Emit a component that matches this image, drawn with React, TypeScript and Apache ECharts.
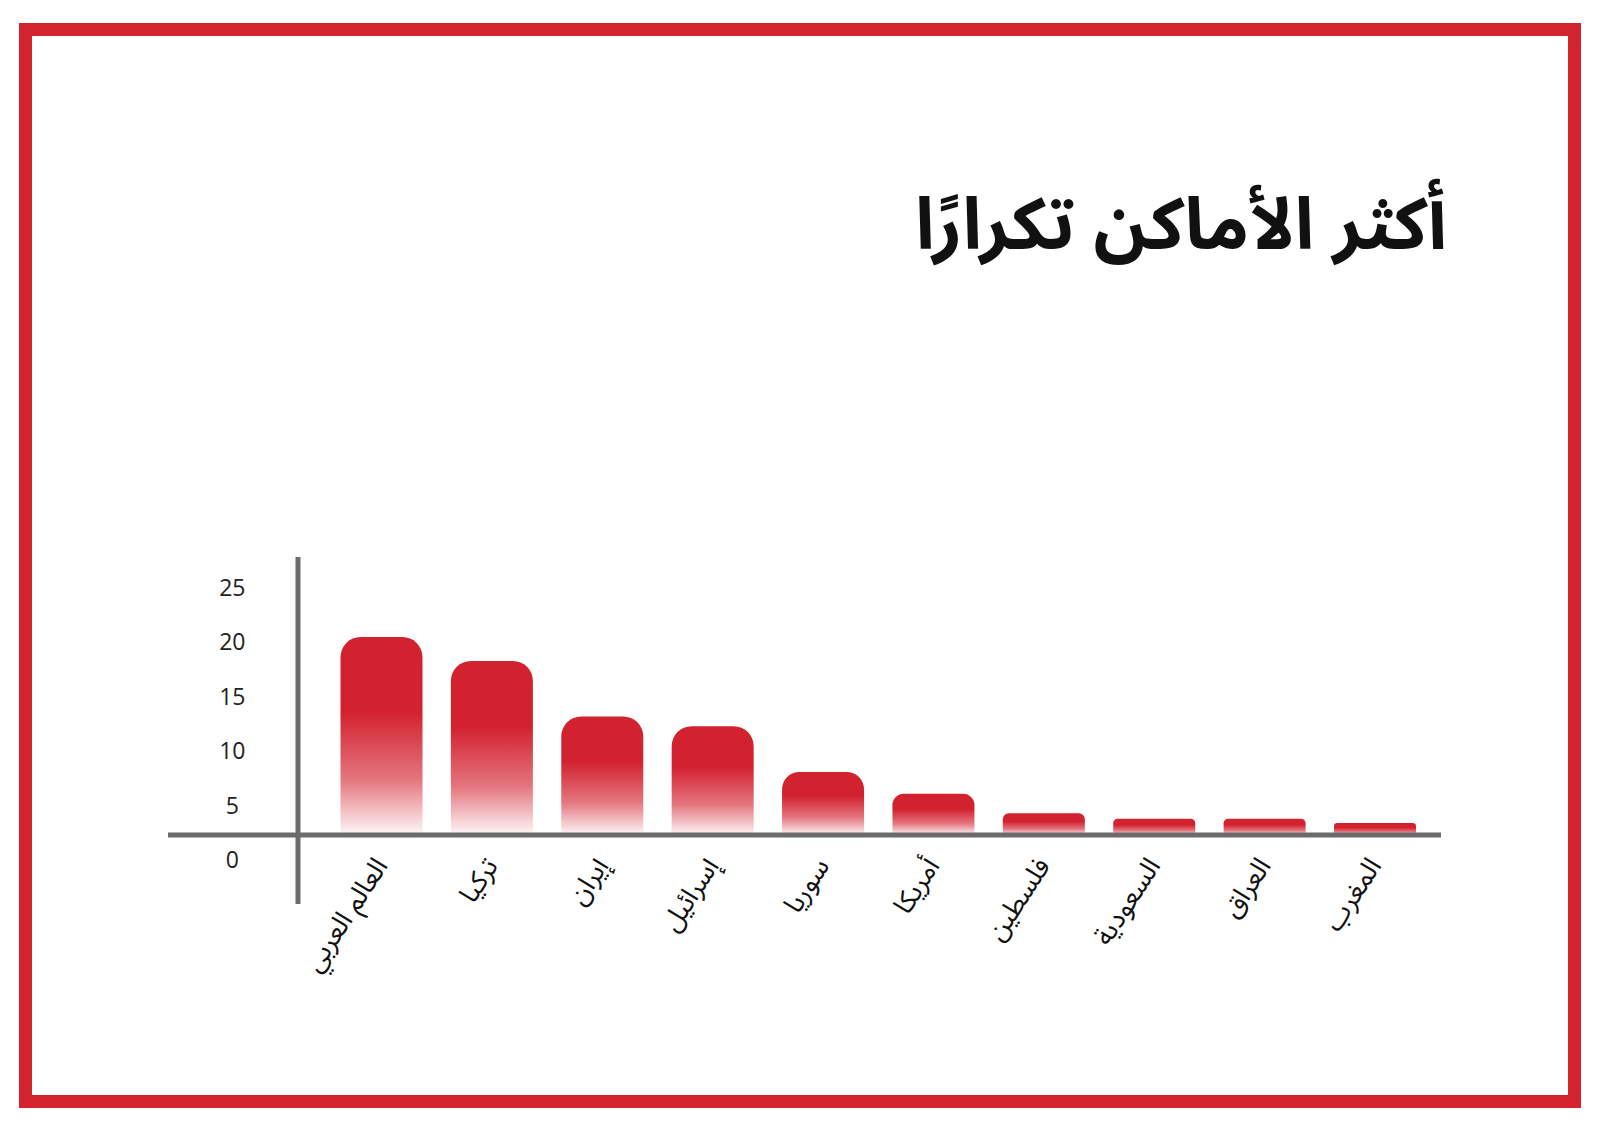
import React, { useEffect, useRef } from "react";
import * as echarts from "echarts";

const titleText = "أكثر الأماكن تكرارًا";
const categories = [
  "العالم العربي",
  "تركيا",
  "إيران",
  "إسرائيل",
  "سوريا",
  "أمريكا",
  "فلسطين",
  "السعودية",
  "العراق",
  "المغرب",
];
const values = [20.4, 18.2, 13.1, 12.2, 8.0, 6.0, 4.2, 3.7, 3.7, 3.3];
const yTicks = [0, 5, 10, 15, 20, 25];
// value at which the drawn horizontal axis line sits (bars start there)
const axisBase = 2.2;

const RED = "#D3222F";
const GREY = "#6b6b6b";
const ARABIC_FONT = '"Noto Sans Arabic", "DejaVu Sans", "Noto Sans", sans-serif';
const NUM_FONT = '"Open Sans", "Noto Sans", sans-serif';

export default function App() {
  const ref = useRef<HTMLDivElement>(null);

  useEffect(() => {
    document.body.style.margin = "0";
    if (!ref.current) return;
    const chart = echarts.init(ref.current, undefined, { renderer: "svg" });

    const barGradient = new echarts.graphic.LinearGradient(0, 0, 0, 1, [
      { offset: 0, color: RED },
      { offset: 0.38, color: RED },
      { offset: 0.72, color: "rgba(211,34,47,0.62)" },
      { offset: 1, color: "rgba(211,34,47,0.03)" },
    ]);

    const visible = values.map((v) => {
      const h = v - axisBase;
      const r = Math.min(20, h * 3);
      return { value: h, itemStyle: { borderRadius: [r, r, 0, 0] } };
    });

    const option: any = {
      animation: false,
      backgroundColor: "#ffffff",
      grid: { left: 326.3, right: 169.8, top: 587, bottom: 272, containLabel: false },
      xAxis: {
        type: "category",
        data: categories,
        axisLine: { show: false },
        axisTick: { show: false },
        splitLine: { show: false },
        axisLabel: {
          interval: 0,
          rotate: 57,
          margin: 2,
          fontSize: 27,
          color: "#111111",
          fontFamily: ARABIC_FONT,
        },
      },
      yAxis: {
        type: "value",
        min: yTicks[0],
        max: yTicks[yTicks.length - 1],
        interval: 5,
        axisLine: { show: false },
        axisTick: { show: false },
        splitLine: { show: false },
        axisLabel: {
          align: "center",
          margin: 94,
          fontSize: 23,
          color: "#222222",
          fontFamily: NUM_FONT,
        },
      },
      series: [
        {
          type: "bar",
          stack: "bars",
          barWidth: 82,
          silent: true,
          itemStyle: { color: "rgba(0,0,0,0)" },
          data: values.map(() => axisBase),
        },
        {
          type: "bar",
          stack: "bars",
          barWidth: 82,
          itemStyle: { color: barGradient },
          data: visible,
        },
      ],
      graphic: [
        {
          type: "rect",
          z: 100,
          shape: { x: 25.5, y: 29.5, width: 1549, height: 1072 },
          style: { fill: "none", stroke: "#D2232F", lineWidth: 13 },
        },
        {
          type: "line",
          z: 100,
          shape: { x1: 168, y1: 835, x2: 1441, y2: 835 },
          style: { stroke: GREY, lineWidth: 5 },
        },
        {
          type: "line",
          z: 100,
          shape: { x1: 298, y1: 557, x2: 298, y2: 904 },
          style: { stroke: GREY, lineWidth: 5 },
        },
        {
          type: "text",
          z: 100,
          x: 1447,
          y: 190,
          style: {
            text: titleText,
            fontSize: 72,
            fontWeight: "bold",
            fontFamily: ARABIC_FONT,
            fill: "#111111",
            align: "right",
            verticalAlign: "top",
          },
        },
      ],
    };

    chart.setOption(option);
    return () => chart.dispose();
  }, []);

  return <div ref={ref} style={{ width: 1600, height: 1131 }} />;
}
